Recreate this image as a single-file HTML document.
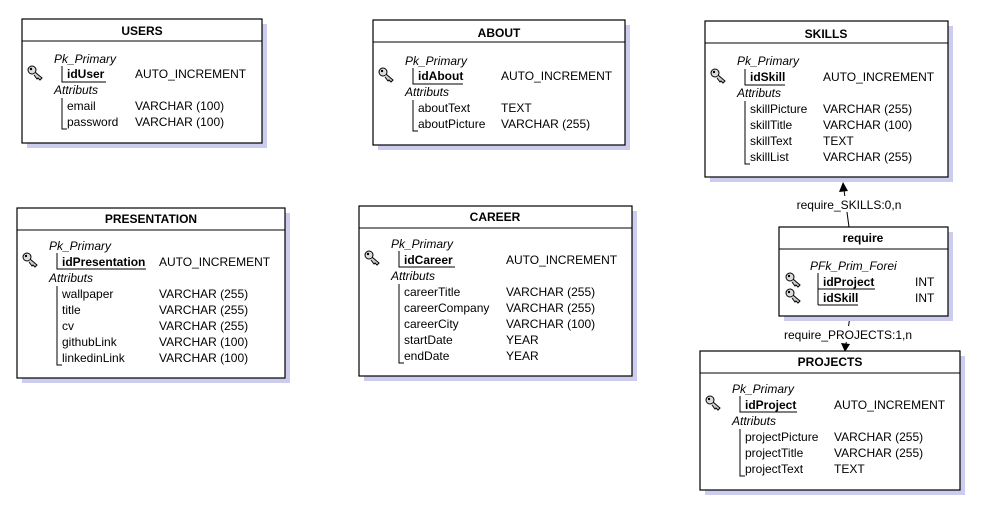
<!DOCTYPE html>
<html><head><meta charset="utf-8"><style>
html,body{margin:0;padding:0;background:#fff;}
svg{display:block;}
text{font-family:"Liberation Sans",Arial,sans-serif;font-size:12px;fill:#000;transform:translateY(1px);}
.b{font-weight:bold;}
.i{font-style:italic;}
.sh{fill:#ccccee;}
.bx{fill:#fff;stroke:#000;stroke-width:1.2;}
.ln{stroke:#000;stroke-width:1;fill:none;}
</style></head><body>
<svg width="1000" height="515" viewBox="0 0 1000 515">
<defs>
<g id="key">
<circle cx="5" cy="4" r="4" fill="#ddd" stroke="#000" stroke-width="1"/>
<circle cx="4" cy="3" r="1.2" fill="#000"/>
<path d="M8 6 L15 12 L13 14 L11 12 L10 13 L7 9" fill="#ccc" stroke="#000" stroke-width="1"/>
</g>
</defs>

<!-- USERS -->
<rect class="sh" x="27" y="24" width="240" height="124"/>
<rect class="bx" x="22" y="19" width="240" height="124"/>
<line class="ln" x1="22" y1="41" x2="262" y2="41"/>
<text class="b" x="142" y="34" text-anchor="middle">USERS</text>
<text class="i" x="54" y="62">Pk_Primary</text>
<use href="#key" x="27" y="66"/>
<path class="ln" d="M62 66 V82 H106"/>
<text class="b" x="67" y="77">idUser</text>
<text x="135" y="77">AUTO_INCREMENT</text>
<text class="i" x="54" y="93">Attributs</text>
<path class="ln" d="M62 98 V129 H67"/>
<text x="67" y="109">email</text><text x="135" y="109">VARCHAR (100)</text>
<text x="67" y="125">password</text><text x="135" y="125">VARCHAR (100)</text>

<!-- ABOUT -->
<rect class="sh" x="378" y="25" width="252" height="125"/>
<rect class="bx" x="373" y="20" width="252" height="125"/>
<line class="ln" x1="373" y1="42" x2="625" y2="42"/>
<text class="b" x="499" y="36" text-anchor="middle">ABOUT</text>
<text class="i" x="405" y="64">Pk_Primary</text>
<use href="#key" x="378" y="68"/>
<path class="ln" d="M413 68 V84 H463"/>
<text class="b" x="418" y="79">idAbout</text>
<text x="501" y="79">AUTO_INCREMENT</text>
<text class="i" x="405" y="95">Attributs</text>
<path class="ln" d="M413 100 V131 H418"/>
<text x="418" y="111">aboutText</text><text x="501" y="111">TEXT</text>
<text x="418" y="127">aboutPicture</text><text x="501" y="127">VARCHAR (255)</text>

<!-- SKILLS -->
<rect class="sh" x="710" y="26" width="243" height="156"/>
<rect class="bx" x="705" y="21" width="243" height="156"/>
<line class="ln" x1="705" y1="43" x2="948" y2="43"/>
<text class="b" x="826" y="37" text-anchor="middle">SKILLS</text>
<text class="i" x="737" y="64">Pk_Primary</text>
<use href="#key" x="710" y="69"/>
<path class="ln" d="M745 69 V85 H785"/>
<text class="b" x="750" y="80">idSkill</text>
<text x="823" y="80">AUTO_INCREMENT</text>
<text class="i" x="737" y="96">Attributs</text>
<path class="ln" d="M745 101 V164 H750"/>
<text x="750" y="112">skillPicture</text><text x="823" y="112">VARCHAR (255)</text>
<text x="750" y="128">skillTitle</text><text x="823" y="128">VARCHAR (100)</text>
<text x="750" y="144">skillText</text><text x="823" y="144">TEXT</text>
<text x="750" y="160">skillList</text><text x="823" y="160">VARCHAR (255)</text>

<!-- PRESENTATION -->
<rect class="sh" x="22" y="213" width="268" height="170"/>
<rect class="bx" x="17" y="208" width="268" height="170"/>
<line class="ln" x1="17" y1="230" x2="285" y2="230"/>
<text class="b" x="151" y="222" text-anchor="middle">PRESENTATION</text>
<text class="i" x="49" y="249">Pk_Primary</text>
<use href="#key" x="22" y="253"/>
<path class="ln" d="M57 253 V269 H146"/>
<text class="b" x="62" y="265">idPresentation</text>
<text x="159" y="265">AUTO_INCREMENT</text>
<text class="i" x="49" y="281">Attributs</text>
<path class="ln" d="M57 286 V365 H62"/>
<text x="62" y="297">wallpaper</text><text x="159" y="297">VARCHAR (255)</text>
<text x="62" y="313">title</text><text x="159" y="313">VARCHAR (255)</text>
<text x="62" y="329">cv</text><text x="159" y="329">VARCHAR (255)</text>
<text x="62" y="345">githubLink</text><text x="159" y="345">VARCHAR (100)</text>
<text x="62" y="361">linkedinLink</text><text x="159" y="361">VARCHAR (100)</text>

<!-- CAREER -->
<rect class="sh" x="364" y="211" width="273" height="170"/>
<rect class="bx" x="359" y="206" width="273" height="170"/>
<line class="ln" x1="359" y1="228" x2="632" y2="228"/>
<text class="b" x="495" y="220" text-anchor="middle">CAREER</text>
<text class="i" x="391" y="247">Pk_Primary</text>
<use href="#key" x="364" y="251"/>
<path class="ln" d="M399 251 V267 H455"/>
<text class="b" x="404" y="263">idCareer</text>
<text x="506" y="263">AUTO_INCREMENT</text>
<text class="i" x="391" y="279">Attributs</text>
<path class="ln" d="M399 284 V363 H404"/>
<text x="404" y="295">careerTitle</text><text x="506" y="295">VARCHAR (255)</text>
<text x="404" y="311">careerCompany</text><text x="506" y="311">VARCHAR (255)</text>
<text x="404" y="327">careerCity</text><text x="506" y="327">VARCHAR (100)</text>
<text x="404" y="343">startDate</text><text x="506" y="343">YEAR</text>
<text x="404" y="359">endDate</text><text x="506" y="359">YEAR</text>

<!-- connectors -->
<line class="ln" x1="849" y1="227" x2="844" y2="190"/>
<polygon points="843,182 839,192 848,191" fill="#000"/>
<rect x="792" y="196" width="114" height="16" fill="#fff"/>
<text x="849" y="208" text-anchor="middle">require_SKILLS:0,n</text>
<line class="ln" x1="850" y1="316" x2="846" y2="344"/>
<polygon points="845,352 841,343 850,344" fill="#000"/>
<rect x="782" y="326" width="132" height="16" fill="#fff"/>
<text x="848" y="338" text-anchor="middle">require_PROJECTS:1,n</text>

<!-- require -->
<rect class="sh" x="784" y="232" width="169" height="89"/>
<rect class="bx" x="779" y="227" width="169" height="89"/>
<line class="ln" x1="779" y1="249" x2="948" y2="249"/>
<text class="b" x="863" y="241" text-anchor="middle">require</text>
<text class="i" x="810" y="269">PFk_Prim_Forei</text>
<use href="#key" x="785" y="273"/>
<use href="#key" x="785" y="289"/>
<path class="ln" d="M818 273 V305"/>
<line class="ln" x1="818" y1="289" x2="875" y2="289"/>
<line class="ln" x1="818" y1="305" x2="858" y2="305"/>
<text class="b" x="823" y="285">idProject</text><text x="915" y="285">INT</text>
<text class="b" x="823" y="301">idSkill</text><text x="915" y="301">INT</text>

<!-- PROJECTS -->
<rect class="sh" x="705" y="356" width="260" height="139"/>
<rect class="bx" x="700" y="351" width="260" height="139"/>
<line class="ln" x1="700" y1="373" x2="960" y2="373"/>
<text class="b" x="830" y="365" text-anchor="middle">PROJECTS</text>
<text class="i" x="732" y="392">Pk_Primary</text>
<use href="#key" x="705" y="396"/>
<path class="ln" d="M740 396 V412 H797"/>
<text class="b" x="745" y="408">idProject</text>
<text x="834" y="408">AUTO_INCREMENT</text>
<text class="i" x="732" y="424">Attributs</text>
<path class="ln" d="M740 429 V476 H745"/>
<text x="745" y="440">projectPicture</text><text x="834" y="440">VARCHAR (255)</text>
<text x="745" y="456">projectTitle</text><text x="834" y="456">VARCHAR (255)</text>
<text x="745" y="472">projectText</text><text x="834" y="472">TEXT</text>
</svg>
</body></html>
